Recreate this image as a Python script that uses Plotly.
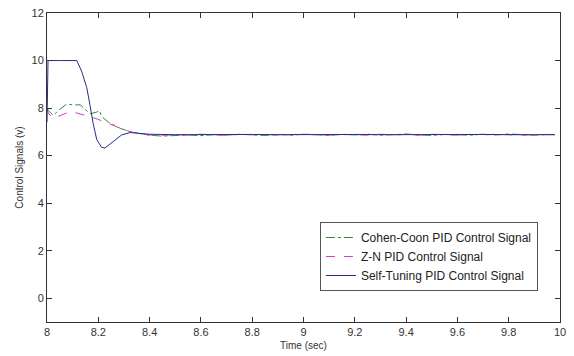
import plotly.graph_objects as go

# ---- data ----
t_cc = [8.0, 8.005, 8.025, 8.044, 8.077, 8.103, 8.129, 8.148, 8.168, 8.194, 8.204, 8.213,
        8.24, 8.285, 8.324, 8.36, 8.4, 8.45, 8.5, 8.55, 8.6, 8.65, 8.7, 8.75, 8.8, 8.85,
        8.9, 8.95, 9.0, 9.05, 9.1, 9.15, 9.2, 9.25, 9.3, 9.35, 9.4, 9.45, 9.5, 9.55, 9.6,
        9.65, 9.7, 9.75, 9.8, 9.85, 9.9, 9.95, 9.98]
cc = [8.0, 7.9, 7.69, 7.9, 8.17, 8.13, 8.14, 7.97, 7.76, 7.83, 7.9, 7.65,
      7.4, 7.15, 7.0, 6.93, 6.86, 6.82, 6.84, 6.87, 6.84, 6.88, 6.86, 6.9, 6.87, 6.85,
      6.89, 6.86, 6.9, 6.88, 6.85, 6.89, 6.87, 6.9, 6.86, 6.88, 6.91, 6.87, 6.85, 6.89,
      6.88, 6.86, 6.9, 6.87, 6.91, 6.88, 6.86, 6.89, 6.88]

t_zn = [8.0, 8.005, 8.025, 8.05, 8.077, 8.103, 8.14, 8.18, 8.233, 8.285, 8.324, 8.36,
        8.4, 8.45, 8.5, 8.55, 8.6, 8.65, 8.7, 8.75, 8.8, 8.85, 8.9, 8.95, 9.0, 9.05,
        9.1, 9.15, 9.2, 9.25, 9.3, 9.35, 9.4, 9.45, 9.5, 9.55, 9.6, 9.65, 9.7, 9.75,
        9.8, 9.85, 9.9, 9.95, 9.98]
zn = [8.0, 7.79, 7.56, 7.69, 7.8, 7.83, 7.73, 7.6, 7.39, 7.15, 7.01, 6.92,
      6.87, 6.85, 6.88, 6.86, 6.9, 6.87, 6.85, 6.89, 6.87, 6.9, 6.86, 6.88, 6.91, 6.87,
      6.86, 6.89, 6.88, 6.86, 6.9, 6.87, 6.89, 6.86, 6.9, 6.88, 6.86, 6.89, 6.87, 6.9,
      6.88, 6.86, 6.89, 6.87, 6.88]

t_st = [8.0, 8.001, 8.004, 8.05, 8.1, 8.116, 8.135, 8.155, 8.168, 8.18, 8.194, 8.213,
        8.226, 8.252, 8.291, 8.324, 8.363, 8.4, 8.5, 8.6, 8.7, 8.8, 8.9, 9.0, 9.1, 9.2,
        9.3, 9.4, 9.5, 9.6, 9.7, 9.8, 9.9, 9.98]
st = [7.4, 8.6, 10.0, 10.0, 10.0, 10.0, 9.55, 8.86, 8.1, 7.35, 6.67, 6.35,
      6.32, 6.53, 6.87, 6.97, 6.94, 6.9, 6.88, 6.89, 6.88, 6.89, 6.88, 6.89, 6.88, 6.89,
      6.88, 6.89, 6.88, 6.88, 6.89, 6.88, 6.88, 6.88]

names = ["Cohen-Coon PID Control Signal", "Z-N PID Control Signal",
         "Self-Tuning PID Control Signal"]

fig = go.Figure()
fig.add_trace(go.Scatter(x=t_cc, y=cc, mode="lines", name=names[0],
                         line=dict(color="#2e8b3e", width=1, dash="dashdot")))
fig.add_trace(go.Scatter(x=t_zn, y=zn, mode="lines", name=names[1],
                         line=dict(color="#d040c0", width=1, dash="dash")))
fig.add_trace(go.Scatter(x=t_st, y=st, mode="lines", name=names[2],
                         line=dict(color="#2a2a8a", width=1)))

axis_common = dict(showline=True, linecolor="#333", linewidth=1, mirror="ticks",
                   ticks="inside", ticklen=5, tickcolor="#333", showgrid=False,
                   zeroline=False, tickfont=dict(size=11, color="#333"))

fig.update_layout(
    width=574, height=356,
    margin=dict(l=47, r=14, t=7, b=33),
    paper_bgcolor="white", plot_bgcolor="white",
    font=dict(family="Liberation Sans, Arial, sans-serif", size=11, color="#333"),
    xaxis=dict(range=[8, 10], dtick=0.2, tick0=8,
               title=dict(text="Time (sec)", font=dict(size=10), standoff=4),
               **axis_common),
    yaxis=dict(range=[-1, 12], dtick=2, tick0=0,
               title=dict(text="Control Signals (v)", font=dict(size=10), standoff=6),
               **axis_common),
    legend=dict(x=0.532, y=0.212, xanchor="left", yanchor="middle",
                bordercolor="#555", borderwidth=1, bgcolor="white",
                font=dict(size=12, color="#222"), itemwidth=30,
                tracegroupgap=0),
    showlegend=True,
)

fig.write_html("out.html")
